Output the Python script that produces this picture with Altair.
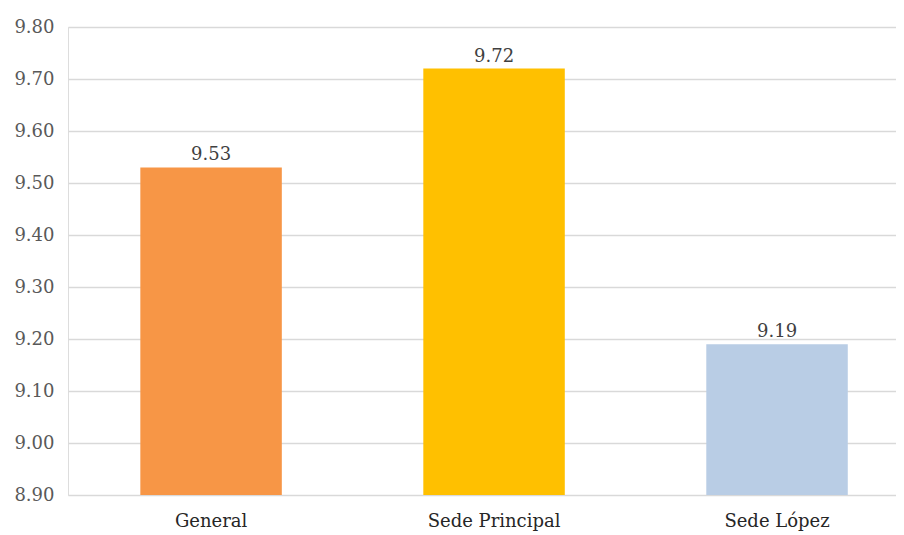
import altair as alt
import pandas as pd

categories = ["General", "Sede Principal", "Sede López"]
values = [9.53, 9.72, 9.19]
colors = ["#F79646", "#FFC000", "#B9CDE5"]
y_ticks = [8.9, 9.0, 9.1, 9.2, 9.3, 9.4, 9.5, 9.6, 9.7, 9.8]

df = pd.DataFrame({"cat": categories, "val": values, "color": colors})
FONT = "DejaVu Serif"

x = alt.X("cat:N", sort=categories, title=None,
          scale=alt.Scale(paddingInner=0.5, paddingOuter=0.213, align=0.6),
          axis=alt.Axis(labelAngle=0, ticks=False, domain=False, labelFont=FONT,
                        labelFontSize=18, labelColor="#262626", labelPadding=17))
y = alt.Y("val:Q", title=None,
          scale=alt.Scale(domain=[8.9, 9.8], zero=False, nice=False),
          axis=alt.Axis(values=y_ticks, format=".2f", ticks=False, domain=False,
                        labelFont=FONT, labelFontSize=18, labelColor="#595959",
                        labelPadding=14, gridColor="#D9D9D9", gridWidth=1.5))

base = alt.Chart(df)
bars = base.mark_bar().encode(
    x=x, y=y, y2=alt.datum(8.9),
    color=alt.Color("color:N", scale=None),
)
labels = base.mark_text(dy=-3, baseline="bottom", font=FONT, fontSize=18,
                        color="#404040").encode(
    x=alt.X("cat:N", sort=categories),
    y="val:Q",
    text=alt.Text("val:Q", format=".2f"),
)

chart = (bars + labels).properties(
    width=828, height=468,
    padding={"left": 60, "top": 19, "right": 0, "bottom": 40},
    autosize="none",
).configure_view(stroke=None).configure(background="white")

chart.save("out.html", embed_options={"renderer": "svg", "actions": False})
